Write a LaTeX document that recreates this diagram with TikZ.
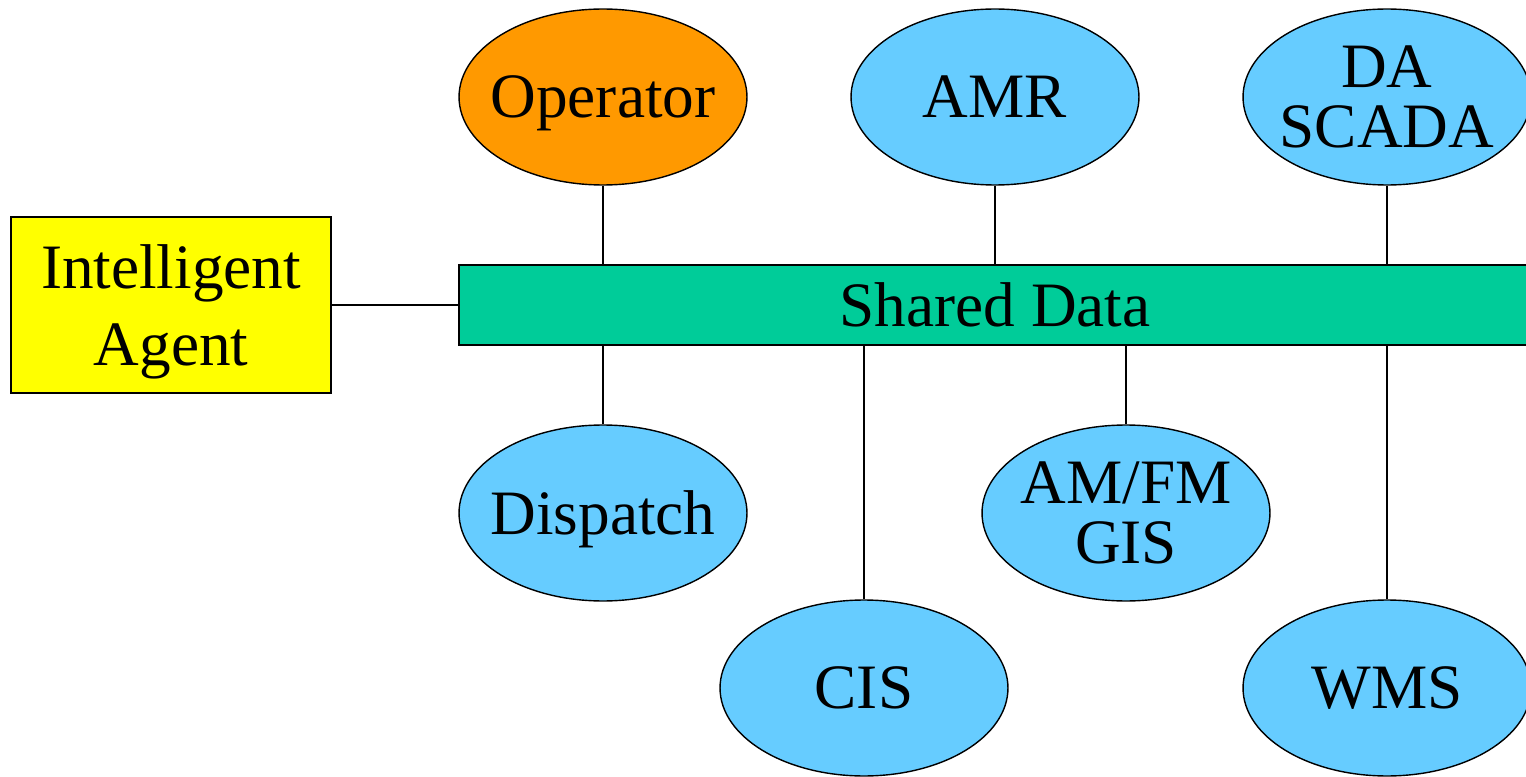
\documentclass[tikz,border=0pt]{standalone}
\usepackage{fontspec}
\setmainfont{Liberation Serif}
\usetikzlibrary{shapes.geometric}
\definecolor{skyb}{HTML}{66CCFF}
\definecolor{orng}{HTML}{FF9900}
\definecolor{teal2}{HTML}{00CC99}
\definecolor{yel}{HTML}{FFFF00}
\tikzset{
  base/.style={draw=black, line width=0.8pt, inner sep=0pt, align=center,
    font=\fontsize{36}{34}\selectfont},
  oval/.style={base, ellipse, inner xsep=-2cm, inner ysep=-1cm,
    minimum width=5.76cm, minimum height=3.52cm, fill=skyb},
  agentbox/.style={base, rectangle, minimum width=6.4cm, minimum height=3.52cm,
    fill=yel, font=\fontsize{36}{44}\selectfont, text depth=0pt},
  busbox/.style={base, rectangle, minimum width=21.44cm, minimum height=1.6cm, fill=teal2},
  link/.style={draw=black, line width=0.8pt}
}
\begin{document}
\begin{tikzpicture}[x=0.02cm,y=-0.02cm]
\useasboundingbox (0,0) rectangle (1526,777);
\node[busbox] (bus) at (995,305) {Shared Data};
\node[agentbox] (agent) at (171,305) {Intelligent\\Agent};
\node[oval, fill=orng, text depth=0pt] (op) at (603,97) {Operator};
\node[oval] (amr) at (995,97) {AMR};
\node[oval] (da) at (1387,97) {DA\\SCADA};
\node[oval, text depth=0pt] (disp) at (603,513) {Dispatch};
\node[oval] (cis) at (864,688) {CIS};
\node[oval] (gis) at (1126,513) {AM/FM\\GIS};
\node[oval] (wms) at (1387,688) {WMS};
\draw[link] (agent.east) -- (bus.west);
\draw[link] (op.south) -- (op.south |- bus.north);
\draw[link] (amr.south) -- (amr.south |- bus.north);
\draw[link] (da.south) -- (da.south |- bus.north);
\draw[link] (disp.north) -- (disp.north |- bus.south);
\draw[link] (cis.north) -- (cis.north |- bus.south);
\draw[link] (gis.north) -- (gis.north |- bus.south);
\draw[link] (wms.north) -- (wms.north |- bus.south);
\end{tikzpicture}
\end{document}
